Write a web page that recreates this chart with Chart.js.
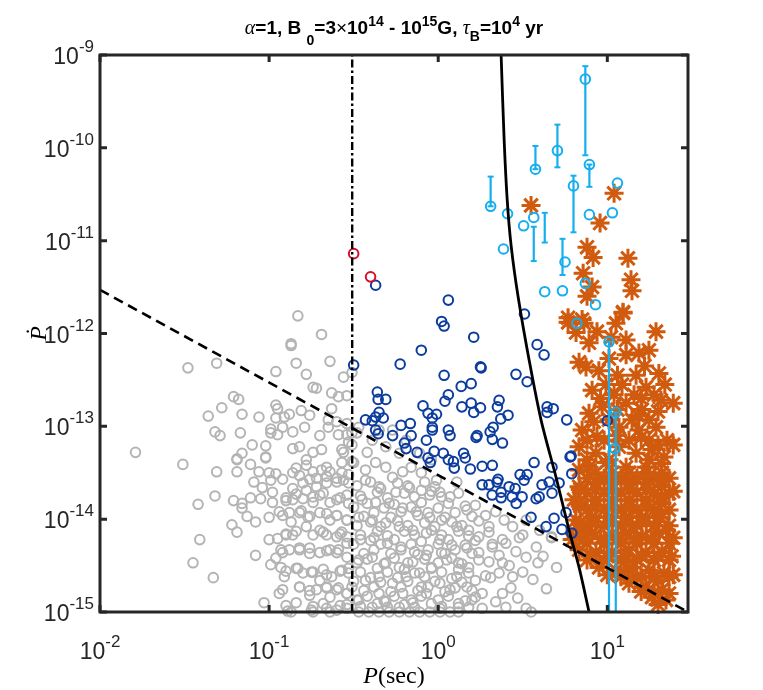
<!DOCTYPE html>
<html>
<head>
<meta charset="utf-8">
<script src="https://cdn.jsdelivr.net/npm/chart.js@4.4.1/dist/chart.umd.min.js"></script>
<style>
  body { margin: 0; background: #fff; }
  canvas { display: block; }
</style>
</head>
<body>
<canvas id="ppdot" width="763" height="690"></canvas>
<script>
// all points are [log10 P (sec), log10 Pdot]

// simulated pulsars below the death line / left of the spin line
const grayPts = [
  [-0.83,-11.81],[-0.69,-12.01],[-0.87,-12.11],[-0.87,-12.13],[-0.64,-12.30],[-0.84,-12.32],[-1.48,-12.37],[-1.31,-12.32],
  [-0.96,-12.41],[-0.78,-12.44],[-0.56,-12.47],[-0.51,-12.42],[-0.74,-12.58],[-0.72,-12.59],[-1.21,-12.68],[-1.18,-12.71],
  [-0.63,-12.64],[-0.59,-12.68],[-0.54,-12.67],[-0.96,-12.77],[-0.95,-12.81],[-1.28,-12.80],[-0.81,-12.83],[-0.63,-12.81],
  [-1.36,-12.89],[-1.16,-12.87],[-1.06,-12.90],[-0.96,-12.91],[-0.91,-12.90],[-0.88,-12.87],[-0.76,-12.88],[-0.65,-12.93],
  [-0.60,-12.95],[-0.54,-12.97],[-1.32,-13.06],[-1.29,-13.10],[-1.17,-13.07],[-0.99,-13.03],[-0.99,-13.07],[-0.92,-13.01],
  [-0.86,-13.06],[-0.79,-13.01],[-0.70,-13.10],[-0.65,-13.01],[-0.54,-13.09],[-0.48,-13.07],[-1.10,-13.20],[-1.02,-13.21],
  [-0.95,-13.09],[-0.86,-13.24],[-0.82,-13.22],[-0.74,-13.28],[-0.69,-13.25],[-0.57,-13.25],[-0.51,-13.20],[-1.79,-13.28],
  [-1.51,-13.41],[-1.19,-13.35],[-1.16,-13.29],[-1.02,-13.34],[-1.11,-13.41],[-0.84,-13.45],[-0.78,-13.36],[-0.66,-13.44],
  [-0.57,-13.39],[-0.51,-13.38],
  [-1.31,-13.49],[-1.19,-13.49],[-1.19,-13.36],[-1.02,-13.33],[-1.06,-13.49],[-1.00,-13.50],[-0.96,-13.51],[-0.86,-13.50],
  [-0.78,-13.42],[-0.74,-13.49],[-0.69,-13.47],[-0.64,-13.49],[-1.09,-13.60],[-1.04,-13.66],[-0.98,-13.71],[-0.99,-13.58],
  [-0.86,-13.67],[-0.80,-13.61],[-0.78,-13.69],[-0.72,-13.56],[-0.72,-13.65],[-0.66,-13.61],[-0.60,-13.60],[-0.56,-13.58],
  [-0.53,-13.52],[-1.32,-13.75],[-1.42,-13.84],[-1.21,-13.80],[-1.16,-13.83],[-1.11,-13.77],[-1.05,-13.78],[-0.98,-13.82],
  [-0.90,-13.80],[-0.86,-13.79],[-0.80,-13.78],[-0.74,-13.82],[-0.70,-13.74],[-0.64,-13.82],[-0.60,-13.79],[-0.54,-13.74],
  [-1.16,-13.88],[-1.13,-13.97],[-1.08,-14.03],[-1.00,-13.98],[-0.94,-13.92],[-0.88,-13.93],[-0.81,-13.91],[-0.77,-13.98],
  [-0.70,-13.93],[-0.64,-14.01],[-0.60,-13.96],[-0.54,-14.01],[-1.22,-14.06],[-1.19,-14.14],[-1.00,-14.22],[-0.95,-14.21],
  [-0.90,-14.17],[-0.86,-14.17],[-0.87,-14.03],[-0.78,-14.08],[-0.70,-14.12],[-0.66,-14.17],[-0.60,-14.19],[-0.57,-14.14],
  [-1.41,-14.22],[-1.08,-14.39],[-0.93,-14.33],[-0.88,-14.33],[-0.82,-14.31],[-0.76,-14.31],[-0.70,-14.36],[-0.64,-14.33],
  [-0.59,-14.33],[-0.54,-14.26],[-1.45,-14.47],[-0.99,-14.49],[-0.96,-14.42],[-0.93,-14.52],[-0.83,-14.53],[-0.80,-14.58],
  [-0.75,-14.57],[-0.70,-14.66],[-0.66,-14.60],[-0.63,-14.62],[-0.57,-14.55],[-0.53,-14.53],[-1.33,-14.63],[-0.91,-14.62],
  [-0.94,-14.80],[-0.82,-14.73],[-0.76,-14.82],[-0.72,-14.76],[-0.66,-14.73],[-0.64,-14.84],[-0.59,-14.74],[-0.54,-14.80],
  [-1.03,-14.90],[-0.89,-14.99],[-0.75,-14.98],[-0.66,-14.96],[-0.60,-14.98],[-0.54,-14.96],
  [-0.56,-13.28],[-0.59,-13.09],[-0.47,-13.01],[-0.42,-13.28],[-0.37,-13.39],[-0.31,-13.44],[-0.27,-13.55],[-0.21,-13.49],
  [-0.16,-13.44],[-0.10,-13.50],[-0.43,-13.58],[-0.53,-13.61],[-0.35,-13.65],[-0.25,-13.71],[-0.17,-13.66],[-0.10,-13.69],
  [-0.05,-13.74],[0.01,-13.71],[0.07,-13.76],[0.11,-13.60],[0.17,-13.90],[0.22,-13.85],[0.28,-13.96],[0.34,-13.92],
  [0.39,-14.01],[0.44,-14.08],[0.50,-14.17],[0.58,-14.30],[0.59,-14.47],[0.50,-14.57],[0.44,-14.62],[0.36,-14.58],
  [0.30,-14.46],[0.24,-14.36],[0.32,-14.30],[0.40,-14.26],[0.46,-14.35],[0.52,-14.41],[0.70,-14.52],[0.67,-14.20],
  [0.43,-14.74],[0.38,-14.80],[0.34,-14.89],[0.26,-14.96],[0.52,-14.96],[0.20,-14.87],[0.12,-14.95],[0.01,-14.96],
  [0.17,-14.73],[0.22,-14.66],[0.11,-14.62],[0.01,-14.69],[-0.07,-14.80],[-0.15,-14.90],[-0.23,-14.95],[-0.31,-14.89],
  [-0.39,-14.95],[-0.47,-14.87],[-0.54,-14.92],[-0.51,-14.73],[-0.43,-14.66],[-0.35,-14.62],[-0.27,-14.69],[-0.19,-14.62],
  [-0.11,-14.58],[-0.04,-14.52],[0.05,-14.44],[0.12,-14.47],[0.18,-14.52],[0.24,-14.19],[0.18,-14.12],[0.11,-14.08],
  [0.02,-14.01],[-0.05,-13.98],[-0.13,-13.92],[-0.21,-13.88],[-0.29,-13.83],[-0.37,-13.82],[-0.45,-13.79],[-0.53,-13.83],
  [-0.54,-14.01],[-0.47,-13.98],[-0.39,-14.01],[-0.31,-14.04],[-0.23,-14.08],[-0.15,-14.12],[-0.07,-14.15],[0.01,-14.22],
  [0.08,-14.28],[0.17,-14.31],[-0.54,-14.19],[-0.46,-14.22],[-0.38,-14.20],[-0.30,-14.26],[-0.22,-14.30],[-0.14,-14.35],
  [-0.07,-14.39],[0.02,-14.36],[-0.54,-14.41],[-0.47,-14.44],[-0.39,-14.41],[-0.31,-14.47],[-0.23,-14.52],[-0.15,-14.46],
  [-0.53,-14.58],[-0.10,-14.73],[0.07,-14.76],[0.26,-14.80],[-0.54,-14.80],[-0.35,-14.80],[-0.21,-14.80],[-0.43,-13.47],
  [-0.50,-13.39],[-0.57,-13.50],[-0.53,-13.17],[-0.51,-13.07],[-0.39,-13.15],[-0.31,-13.22],[-0.23,-13.29],[-0.19,-13.15],
  [-0.27,-13.04],[-0.35,-13.04],[-0.11,-13.29],[-0.04,-13.36],[-0.01,-13.58],[0.52,-14.01],[0.60,-14.12],[0.67,-14.19],
  [-0.87,-15.0],[-0.74,-15.0],[-0.64,-15.0],[-0.47,-15.0],[-0.41,-15.0],[-0.35,-15.0],[-0.29,-15.0],[-0.23,-15.0],
  [-0.17,-15.0],[-0.11,-15.0],[-0.05,-15.0],[0.01,-15.0],[0.07,-15.0],[0.12,-15.0],[0.55,-15.0],
  // the dense core of the cloud
  [-0.48,-13.64],[-0.40,-13.60],[-0.34,-13.67],[-0.24,-13.61],[-0.18,-13.64],[-0.08,-13.60],[-0.02,-13.65],
  [-0.50,-13.87],[-0.42,-13.83],[-0.32,-13.88],[-0.26,-13.84],[-0.16,-13.87],[-0.10,-13.82],[0.00,-13.88],[0.06,-13.83],[0.16,-13.86],
  [-0.48,-14.07],[-0.40,-14.03],[-0.34,-14.08],[-0.24,-14.02],[-0.18,-14.07],[-0.08,-14.04],[-0.02,-14.08],[0.08,-14.03],[0.14,-14.07],[0.24,-14.02],[0.30,-14.08],
  [-0.50,-14.27],[-0.40,-14.23],[-0.34,-14.27],[-0.26,-14.22],[-0.16,-14.27],[-0.10,-14.24],[0.00,-14.27],[0.06,-14.22],[0.16,-14.28],[0.22,-14.23],[0.32,-14.27],[0.38,-14.22],
  [-0.48,-14.47],[-0.42,-14.43],[-0.32,-14.48],[-0.26,-14.42],[-0.18,-14.47],[-0.08,-14.43],[0.00,-14.47],[0.08,-14.42],[0.14,-14.48],[0.24,-14.44],[0.38,-14.47],
  [-0.50,-14.67],[-0.40,-14.63],[-0.34,-14.68],[-0.24,-14.63],[-0.18,-14.67],[-0.08,-14.62],[-0.02,-14.67],[0.08,-14.64],[0.14,-14.68],[0.31,-14.63],
  [-0.48,-14.87],[-0.42,-14.83],[-0.32,-14.88],[-0.26,-14.83],[-0.16,-14.87],[-0.10,-14.83],[0.00,-14.87],[0.06,-14.83],[0.16,-14.88],[0.22,-14.84],
  [-0.46,-13.75],[-0.36,-13.71],[-0.30,-13.77],[-0.20,-13.72],[-0.14,-13.76],[-0.04,-13.70],[0.02,-13.76],[0.12,-13.72],
  [-0.44,-13.97],[-0.38,-13.93],[-0.28,-13.98],[-0.22,-13.92],[-0.12,-13.96],[-0.06,-13.93],[0.04,-13.98],[0.10,-13.93],[0.20,-13.97],
  [-0.46,-14.17],[-0.36,-14.13],[-0.30,-14.18],[-0.20,-14.13],[-0.14,-14.17],[-0.04,-14.12],[0.02,-14.17],[0.12,-14.13],[0.18,-14.18],[0.30,-14.14],
  [-0.44,-14.37],[-0.38,-14.33],[-0.28,-14.37],[-0.22,-14.33],[-0.12,-14.38],[-0.06,-14.33],[0.04,-14.37],[0.10,-14.33],[0.20,-14.37],[0.36,-14.39],
  [-0.46,-14.57],[-0.36,-14.53],[-0.30,-14.57],[-0.20,-14.54],[-0.14,-14.58],[-0.04,-14.53],[0.02,-14.57],[0.12,-14.54],[0.18,-14.58],[0.28,-14.61],
  [-0.44,-14.77],[-0.38,-14.73],[-0.28,-14.78],[-0.22,-14.73],[-0.12,-14.77],[-0.06,-14.73],[0.04,-14.78],[0.10,-14.74],[0.20,-14.77],
  [-0.46,-14.94],[-0.36,-14.91],[-0.30,-14.95],[-0.20,-14.92],[-0.14,-14.95],[-0.04,-14.91],[0.02,-14.94],[0.12,-14.91],[0.18,-14.95],
  [-0.92,-13.57],[-0.82,-13.53],[-0.76,-13.57],[-0.66,-13.54],[-0.60,-13.56],
  [-0.90,-13.77],[-0.84,-13.73],[-0.74,-13.76],[-0.68,-13.72],[-0.58,-13.77],
  [-0.92,-13.96],[-0.82,-13.93],[-0.76,-13.97],[-0.66,-13.94],[-0.60,-13.96],
  [-0.90,-14.16],[-0.84,-14.13],[-0.74,-14.17],[-0.68,-14.14],[-0.58,-14.16],
  [-0.92,-14.36],[-0.82,-14.33],[-0.76,-14.37],[-0.66,-14.34],[-0.60,-14.36],
  [-0.90,-14.56],[-0.84,-14.53],[-0.74,-14.57],[-0.68,-14.54],[-0.58,-14.56],
  [-0.92,-14.76],[-0.82,-14.73],[-0.76,-14.77],[-0.66,-14.74],[-0.60,-14.76],
  [-0.90,-14.93],[-0.84,-14.90],[-0.74,-14.94],[-0.68,-14.91],[-0.58,-14.93],
  [0.42,-14.50],[0.47,-14.85],[0.56,-14.65],[0.62,-14.40],[0.48,-14.20],[0.64,-14.75],[0.40,-14.95]
];

// simulated radio-loud pulsars (dark blue)
const bluePts = [
  [-0.37,-11.48],[0.06,-11.64],[0.02,-11.87],[0.035,-11.92],[0.21,-12.04],[0.51,-11.79],[-0.10,-12.18],[-0.225,-12.33],
  [-0.50,-12.34],[0.585,-12.12],[0.626,-12.23],[0.25,-12.36],[0.035,-12.45],[0.46,-12.44],[0.136,-12.57],[0.195,-12.54],
  [0.526,-12.52],[-0.36,-12.63],[-0.355,-12.71],[-0.31,-12.71],[0.06,-12.66],[0.04,-12.73],[0.36,-12.72],[-0.09,-12.78],
  [0.14,-12.79],[0.195,-12.75],[0.21,-12.85],[0.25,-12.80],[0.35,-12.79],[-0.35,-12.85],[-0.37,-12.90],[-0.06,-12.86],
  [-0.01,-12.87],[-0.035,-12.91],[-0.325,-12.91],[0.413,-12.88],[0.644,-12.79],[0.644,-12.85],[0.68,-12.81],[-0.43,-12.93],
  [-0.39,-12.94],[0.37,-12.92],[0.76,-12.93],[-0.035,-13.01],[-0.035,-13.04],[-0.22,-12.99],[-0.165,-12.97],[0.06,-13.04],
  [0.325,-13.01],[-0.37,-13.04],[-0.355,-13.08],[-0.27,-13.10],[-0.16,-13.10],[0.23,-13.10],[0.224,-13.12],[0.307,-13.06],
  [0.07,-13.10],[0.32,-13.14],[0.38,-13.18],[-0.07,-13.15],[-0.20,-13.18],[-0.19,-13.24],[-0.125,-13.28],[-0.024,-13.27],
  [0.03,-13.29],[0.15,-13.29],[0.16,-13.34],[0.06,-13.36],[0.09,-13.38],[-0.06,-13.34],[-0.047,-13.39],[0.095,-13.45],
  [0.19,-13.46],[0.26,-13.43],[0.32,-13.42],[0.567,-13.39],[0.673,-13.44],[0.78,-13.33],[0.484,-13.52],[0.526,-13.52],
  [0.354,-13.57],[0.254,-12.37],[1.0,-12.94],[0.786,-13.32],[0.79,-13.51],[0.508,-13.58],[0.348,-13.60],[0.26,-13.63],
  [0.30,-13.63],[0.614,-13.63],[0.656,-13.60],[0.715,-13.61],[0.419,-13.65],[0.455,-13.67],[0.496,-13.76],[0.437,-13.76],
  [0.372,-13.71],[0.372,-13.77],[0.461,-13.83],[0.319,-13.74],[0.579,-13.78],[0.597,-13.76],[0.673,-13.72],[0.756,-13.93],
  [0.549,-13.98],[0.685,-13.99],[0.638,-14.08],[0.732,-14.11],[0.79,-14.15]
];

const redPts = [[-0.50,-11.14],[-0.40,-11.39]];

// observed sources (cyan) and their Pdot error bars [logP, top, bottom]
const cyanPts = [
  [0.87,-9.26],[0.705,-10.03],[0.575,-10.23],[0.894,-10.18],[0.80,-10.41],[1.06,-10.38],[0.31,-10.63],[0.41,-10.71],
  [0.565,-10.75],[0.505,-10.84],[0.894,-10.72],[1.03,-10.70],[0.386,-11.09],[0.75,-11.23],[0.63,-11.55],[0.735,-11.54],
  [0.87,-11.46],[0.93,-11.69],[0.82,-11.89],[1.01,-12.09],[1.05,-12.85],[1.045,-13.24]
];
const cyanBars = [
  [0.87,-9.12,-10.08],[0.705,-9.75,-10.21],[0.575,-9.98,-10.23],[0.894,-10.18,-10.42],[0.80,-10.30,-10.91],
  [0.31,-10.31,-10.63],[0.63,-10.70,-11.02],[0.565,-10.85,-11.22],[0.735,-10.98,-11.37],[1.01,-12.09,-15.0],[1.05,-12.85,-15.0]
];

// simulated sources (orange asterisks)
const orangePts = [
  [0.549,-10.62],[1.040,-10.49],[0.957,-10.81],[0.880,-11.07],[0.916,-11.18],[1.122,-11.19],[0.857,-11.35],[1.140,-11.42],
  [0.910,-11.50],[1.146,-11.54],[0.880,-11.60],[1.093,-11.77],[0.768,-11.83],[0.851,-11.85],[0.768,-11.88],[0.862,-11.89],
  [0.815,-11.99],[0.939,-11.98],[1.051,-11.89],[1.093,-11.78],[1.288,-11.98],[0.892,-12.10],[1.022,-12.04],[1.111,-12.07],
  [0.833,-12.31],[0.874,-12.36],[1.010,-12.27],[1.111,-12.23],[1.187,-12.21],[1.246,-12.18],[1.305,-12.43],[1.170,-12.45],
  [0.910,-12.61],[0.992,-12.55],[1.087,-12.55],[1.229,-12.58],[1.317,-12.72],[0.892,-12.86],[0.969,-12.79],[1.111,-12.75],
  [1.205,-12.82],[0.851,-13.04],[0.939,-13.11],[1.069,-13.01],[1.187,-13.04],[1.288,-13.01],[0.833,-13.22],[0.933,-13.29],
  [1.069,-13.22],[1.170,-13.29],[1.264,-13.25],[1.335,-13.33],[0.833,-13.47],[0.892,-13.44],[0.992,-13.39],[1.111,-13.44],
  [1.229,-13.44],[1.323,-13.50],[0.833,-13.65],[0.933,-13.61],[1.028,-13.61],[1.128,-13.61],[1.229,-13.61],[1.323,-13.65],
  [0.833,-13.83],[0.933,-13.79],[1.028,-13.79],[1.128,-13.79],[1.229,-13.79],[1.323,-13.83],[0.815,-14.01],[0.910,-13.98],
  [1.010,-13.98],[1.111,-13.98],[1.205,-13.98],[1.305,-13.98],[0.815,-14.19],[0.910,-14.15],[1.010,-14.19],[1.111,-14.15],
  [1.205,-14.19],[1.305,-14.15],[0.833,-14.33],[0.933,-14.36],[1.028,-14.36],[1.128,-14.33],[1.229,-14.36],[1.323,-14.36],
  [0.951,-14.52],[1.051,-14.55],[1.146,-14.52],[1.246,-14.55],[1.335,-14.58],[1.128,-14.69],[1.229,-14.73],[1.323,-14.76],
  [1.264,-14.84],[1.347,-14.87],[0.833,-14.12],[0.803,-13.79],[0.792,-14.22],
  [0.880,-13.56],[0.981,-13.56],[1.081,-13.56],[1.175,-13.56],[1.276,-13.56],[1.365,-13.56],
  [0.880,-13.72],[0.981,-13.72],[1.081,-13.72],[1.175,-13.72],[1.276,-13.72],[1.365,-13.72],
  [0.880,-13.90],[0.981,-13.90],[1.081,-13.90],[1.175,-13.90],[1.276,-13.90],[1.365,-13.90],
  [0.880,-14.07],[0.981,-14.07],[1.081,-14.07],[1.175,-14.07],[1.276,-14.07],[1.365,-14.07],
  [0.880,-14.26],[0.981,-14.26],[1.081,-14.26],[1.175,-14.26],[1.276,-14.26],[1.365,-14.26],
  [0.880,-14.44],[0.981,-14.44],[1.081,-14.44],[1.175,-14.44],[1.276,-14.44],[1.365,-14.44],
  [1.081,-14.62],[1.175,-14.62],[1.276,-14.62],[1.365,-14.62],[1.276,-14.80],[1.365,-14.80],
  [0.981,-13.15],[1.128,-13.15],[1.246,-13.15],[1.353,-13.15],[1.010,-12.93],[1.146,-12.93],[1.246,-12.93],
  [1.040,-12.66],[1.158,-12.66],[1.276,-12.66],[0.880,-13.36],[1.010,-13.36],[1.246,-13.36],
  [1.39,-12.75],[1.39,-13.20],[1.39,-13.70],[1.39,-14.20],[1.39,-14.60],
  [0.93,-13.50],[1.03,-13.50],[1.13,-13.50],[1.23,-13.50],[1.32,-13.40],
  [0.84,-13.68],[0.93,-13.68],[1.03,-13.68],[1.13,-13.68],[1.23,-13.68],[1.32,-13.58],
  [0.84,-13.86],[0.93,-13.86],[1.03,-13.86],[1.13,-13.86],[1.23,-13.86],[1.32,-13.76],
  [0.84,-14.03],[0.93,-14.03],[1.03,-14.03],[1.13,-14.03],[1.23,-14.03],[1.32,-13.94],
  [0.86,-14.21],[0.96,-14.21],[1.06,-14.21],[1.16,-14.21],[1.26,-14.21],[1.35,-14.12],
  [0.90,-14.40],[1.00,-14.40],[1.10,-14.40],[1.20,-14.40],[1.30,-14.40],[1.38,-14.40],
  [1.00,-14.60],[1.10,-14.58],[1.20,-14.62],[1.30,-14.66],[1.20,-14.78],[1.30,-14.92],
  [0.92,-12.95],[1.06,-12.82],[1.18,-12.88],[1.30,-12.84],[0.96,-12.70],[1.20,-12.70],[1.34,-12.55],
  [0.88,-13.15],[1.06,-13.10],[1.20,-13.12],[1.30,-13.20],[0.95,-12.40],[1.22,-12.35],[1.06,-12.45]
];

// model lines
const deathLine = [[-2.0,-11.53],[1.477,-15.0]];
const spinLineP = 0.31;
const fieldCurve = [
  [0.372,-9.0],[0.390,-9.92],[0.408,-10.56],[0.431,-11.05],[0.473,-11.61],[0.538,-12.29],
  [0.608,-12.93],[0.697,-13.55],[0.774,-14.12],[0.833,-14.52],[0.892,-15.0]
];

const xTickExps = [-2, -1, 0, 1];
const yTickExps = [-15, -14, -13, -12, -11, -10, -9];

const toXY = arr => arr.map(p => ({ x: 10 ** p[0], y: 10 ** p[1] }));

const SANS = '"Liberation Sans", Arial, sans-serif';
const SERIF = '"Liberation Serif", "DejaVu Serif", serif';
const INK = '#262626';

function drawRich(ctx, parts, x, y, align) {
  let w = 0;
  parts.forEach(p => { ctx.font = p[1]; w += ctx.measureText(p[0]).width; });
  let cx = align === 'center' ? x - w / 2 : align === 'right' ? x - w : x;
  parts.forEach(p => {
    ctx.font = p[1];
    ctx.fillText(p[0], cx, y + (p[2] || 0));
    cx += ctx.measureText(p[0]).width;
  });
}

// box, inward ticks, tick labels, axis titles and figure title
const axesDecor = {
  id: 'axesDecor',
  afterDatasetsDraw(chart) {
    const { ctx, chartArea: a, scales } = chart;
    ctx.save();
    ctx.strokeStyle = INK;
    ctx.fillStyle = INK;
    ctx.lineWidth = 3;
    ctx.strokeRect(a.left, a.top, a.right - a.left, a.bottom - a.top);
    ctx.beginPath();
    xTickExps.forEach(e => {
      const px = scales.x.getPixelForValue(10 ** e);
      ctx.moveTo(px, a.bottom); ctx.lineTo(px, a.bottom - 7);
      ctx.moveTo(px, a.top); ctx.lineTo(px, a.top + 7);
    });
    yTickExps.forEach(e => {
      const py = scales.y.getPixelForValue(10 ** e);
      ctx.moveTo(a.left, py); ctx.lineTo(a.left + 7, py);
      ctx.moveTo(a.right, py); ctx.lineTo(a.right - 7, py);
    });
    ctx.stroke();

    ctx.textBaseline = 'alphabetic';
    const base = '23px ' + SANS, sup = '17px ' + SANS;
    xTickExps.forEach(e => {
      const px = scales.x.getPixelForValue(10 ** e);
      drawRich(ctx, [['10', base], [String(e), sup, -12]], px, a.bottom + 47, 'center');
    });
    yTickExps.forEach(e => {
      const py = scales.y.getPixelForValue(10 ** e);
      drawRich(ctx, [['10', base], [String(e), sup, -12]], a.left - 6, py + 9, 'right');
    });

    // x title
    ctx.fillStyle = '#000';
    drawRich(ctx, [['P', 'italic 24px ' + SERIF], ['(sec)', '24px ' + SERIF]], (a.left + a.right) / 2, 683, 'center');
    // y title
    ctx.save();
    ctx.translate(46, (a.top + a.bottom) / 2);
    ctx.rotate(-Math.PI / 2);
    drawRich(ctx, [['\u1E56', 'italic 24px ' + SERIF]], 0, 0, 'center');
    ctx.restore();

    // title
    const b = 'bold 19px ' + SANS, bs = 'bold 14px ' + SANS, g = 'italic 20px ' + SERIF;
    drawRich(ctx, [
      ['\u03B1', g], ['=1, B ', b], ['0', bs, 11], ['=3', b], ['\u00D7', '19px ' + SANS], ['10', b], ['14', bs, -8],
      [' - 10', b], ['15', bs, -8], ['G, ', b], ['\u03C4', g], ['B', bs, 7], ['=10', b], ['4', bs, -8], [' yr', b]
    ], 394, 34, 'center');
    ctx.restore();
  }
};

const circle = (color) => ({
  pointStyle: 'circle', pointRadius: 4.8, borderWidth: 2,
  borderColor: color, pointBackgroundColor: 'rgba(0,0,0,0)', backgroundColor: 'rgba(0,0,0,0)', clip: false
});

const datasets = [
  { data: toXY(fieldCurve), showLine: true, pointRadius: 0, borderColor: '#000', borderWidth: 2.8, tension: 0.3, order: 0 },
  { data: toXY(deathLine), showLine: true, pointRadius: 0, borderColor: '#000', borderWidth: 2.6, borderDash: [10, 6], order: 0 },
  { data: [{ x: spinLineP, y: 1e-15 }, { x: spinLineP, y: 1e-9 }], showLine: true, pointRadius: 0, borderColor: '#000', borderWidth: 2.4, borderDash: [8, 3, 2.5, 3], order: 0 },
  { data: toXY(cyanPts), ...circle('#15aeee'), order: 2 },
  { data: toXY(redPts), ...circle('#d4102a'), order: 3 },
  { data: toXY(bluePts), ...circle('#0b3c9e'), order: 4 },
  { data: toXY(orangePts), pointStyle: 'star', pointRadius: 9.5, borderWidth: 3, borderColor: '#d05a0e', clip: false, order: 5 },
  { data: toXY(grayPts), ...circle('#b4b4b4'), order: 6 }
];
cyanBars.forEach(b => {
  datasets.push({
    data: [{ x: 10 ** b[0], y: 10 ** b[1] }, { x: 10 ** b[0], y: 10 ** b[2] }],
    showLine: true, borderColor: '#15aeee', borderWidth: 2.2,
    pointStyle: 'line', pointRadius: 3, pointBorderWidth: 2, pointBorderColor: '#15aeee', order: 1
  });
});

new Chart(document.getElementById('ppdot'), {
  type: 'scatter',
  data: { datasets },
  options: {
    responsive: false,
    animation: false,
    devicePixelRatio: 1,
    events: [],
    layout: { padding: { left: 100, right: 75, top: 55, bottom: 78 } },
    plugins: { legend: { display: false }, tooltip: { enabled: false } },
    scales: {
      x: { type: 'logarithmic', min: 0.01, max: 30, display: false },
      y: { type: 'logarithmic', min: 1e-15, max: 1e-9, display: false }
    }
  },
  plugins: [axesDecor]
});
</script>
</body>
</html>
